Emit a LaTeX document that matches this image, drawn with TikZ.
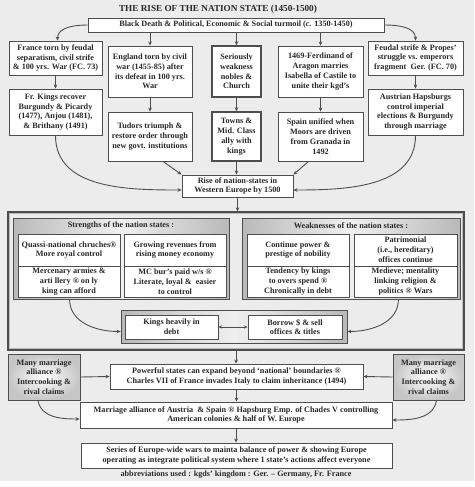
\documentclass[tikz,border=0pt]{standalone}
\usepackage{fontspec}
\setmainfont{Liberation Serif}
\usetikzlibrary{arrows.meta,calc}
\definecolor{bg}{RGB}{236,236,236}
\definecolor{edge}{RGB}{78,78,78}
\definecolor{ink}{RGB}{40,40,40}
\begin{document}
\begin{tikzpicture}[x=1pt,y=-1pt,
  box/.style={draw=edge, line width=0.9pt, fill=white, align=center, inner sep=0pt,
    font=\fontsize{8.2}{9.8}\selectfont\bfseries, text=ink},
  thickbox/.style={box, line width=1.6pt},
  panel/.style={draw=edge, line width=0.8pt, left color=gray!55, right color=gray!55, middle color=gray!12},
  marbox/.style={box, inner color=white, outer color=gray!45},
  arr/.style={draw=edge, line width=0.9pt, -{Stealth[length=4pt,width=3.6pt]}},
  dblarr/.style={draw=edge, line width=0.9pt, {Stealth[length=3.5pt,width=3.2pt]}-{Stealth[length=3.5pt,width=3.2pt]}},
  plain/.style={font=\fontsize{8.2}{9.8}\selectfont\bfseries, text=ink, inner sep=0pt},
]
\fill[bg] (0,0) rectangle (474,481);
\useasboundingbox (0,0) rectangle (474,487);

\node[plain, font=\fontsize{9.2}{10}\selectfont\bfseries] (title) at (218,9) {THE RISE OF THE NATION STATE (1450-1500)};

\node[box, minimum width=296pt, minimum height=14pt] (bd) at (236,25)
  {Black Death \& Political, Economic \& Social turmoil (\textit{c.} 1350-1450)};

% row 1
\node[box, minimum width=93pt, minimum height=34pt] (france) at (55.5,58)
  {France torn by feudal\\separatism, civil strife\\\& 100 yrs. War (FC. 73)};
\node[box, minimum width=84pt, minimum height=51pt] (england) at (150,71.5)
  {England torn by civil\\war (1455-85) after\\its defeat in 100 yrs.\\War};
\node[thickbox, minimum width=49pt, minimum height=51pt] (serious) at (236.5,71.5)
  {Seriously\\weakness\\nobles \&\\Church};
\node[box, minimum width=85pt, minimum height=51pt] (ferd) at (320.5,71.5)
  {1469-Ferdinand of\\Aragon marries\\Isabella of Castile to\\unite their kgd's};
\node[box, minimum width=95pt, minimum height=34pt] (feudal) at (415.5,58)
  {Feudal strife \& Propes'\\struggle vs. emperors\\fragment\ \ Ger. (FC. 70)};

% row 2
\node[box, minimum width=93pt, minimum height=46pt] (frkings) at (55.5,112)
  {Fr. Kings recover\\Burgundy \& Picardy\\(1477), Anjou (1481),\\\& Brithany (1491)};
\node[box, minimum width=84pt, minimum height=49pt] (tudors) at (150,136.5)
  {Tudors triumph \&\\restore order through\\new govt. institutions};
\node[thickbox, minimum width=49pt, minimum height=49pt] (towns) at (236.5,136.5)
  {Towns \&\\Mid. Class\\ally with\\kings};
\node[box, minimum width=85pt, minimum height=49pt] (spain) at (320.5,136.5)
  {Spain unified when\\Moors are driven\\from Granada in\\1492};
\node[box, minimum width=95pt, minimum height=46pt] (austrian) at (415.5,112)
  {Austrian Hapsburgs\\control imperial\\elections \& Burgundy\\through marriage};

\node[box, minimum width=111pt, minimum height=22pt] (rise) at (237.5,186)
  {Rise of nation-states in\\Western Europe by 1500};

% big frame
\node[draw=edge, line width=1.3pt, minimum width=456pt, minimum height=138pt, inner sep=0pt] (frame) at (236,281) {};
\draw[gray!55, line width=0.5pt] ($(frame.north west)+(2.2,2.2)$) rectangle ($(frame.south east)+(-2.2,-2.2)$);

\node[panel, minimum width=216pt, minimum height=81pt, inner sep=0pt] (strong) at (121,258.5) {};
\node[plain] (stronghead) at (121,226) {Strengths of the nation states :};
\node[panel, minimum width=218pt, minimum height=81pt, inner sep=0pt] (weak) at (351,258.5) {};
\node[plain] (weakhead) at (351,226) {Weaknesses of the nation states :};

\node[box, minimum width=102pt, minimum height=32pt] (s1) at (69,250)
  {Quassi-national chruches®\\More royal control};
\node[box, minimum width=102pt, minimum height=32pt] (s2) at (175,250)
  {Growing revenues from\\rising money economy};
\node[box, minimum width=102pt, minimum height=31pt] (s3) at (69,281.5)
  {Mercenary armies \&\\arti llery ® on ly\\king can afford};
\node[box, minimum width=102pt, minimum height=31pt] (s4) at (175,281.5)
  {MC bur's paid w/s ®\\Literate, loyal \&\ \ easier\\to control};
\node[box, minimum width=102pt, minimum height=32pt] (w1) at (298,250)
  {Continue power \&\\prestige of nobility};
\node[box, minimum width=103pt, minimum height=32pt] (w2) at (405.5,250)
  {Patrimonial\\(i.e., hereditary)\\offices continue};
\node[box, minimum width=102pt, minimum height=31pt] (w3) at (298,281.5)
  {Tendency by kings\\to overs spend ®\\Chronically in debt};
\node[box, minimum width=103pt, minimum height=31pt] (w4) at (405.5,281.5)
  {Medieve; mentality\\linking religion \&\\politics ® Wars};

\node[panel, minimum width=226pt, minimum height=33pt, inner sep=0pt] (debt) at (234,326.5) {};
\node[box, minimum width=93pt, minimum height=24pt] (kings) at (171.5,327)
  {Kings heavily in\\debt};
\node[box, minimum width=94pt, minimum height=24pt] (borrow) at (295,327)
  {Borrow \$ \& sell\\offices \& titles};

% lower part
\node[box, minimum width=253pt, minimum height=25pt] (power) at (236.5,376.5)
  {Powerful states can expand beyond ‘national’ boundaries ®\\Charles VII of France invades Italy to claim inheritance (1494)};
\node[marbox, minimum width=72pt, minimum height=46pt] (lmar) at (44,377)
  {Many marriage\\alliance ®\\Intercooking \&\\rival claims};
\node[marbox, minimum width=71pt, minimum height=46pt] (rmar) at (428.5,377)
  {Many marriage\\alliance ®\\Intercooking \&\\rival claims};
\node[box, minimum width=312pt, minimum height=26pt] (alliance) at (236,415)
  {Marriage alliance of Austria\ \ \& Spain ® Hapsburg Emp. of Chades V controlling\\American colonies \& half of W. Europe};
\node[box, minimum width=311pt, minimum height=25pt] (series) at (236.5,455.5)
  {Series of Europe-wide wars to mainta balance of power \& showing Europe\\operating as integrate political system where 1 state's actions affect everyone};
\node[plain] (abbr) at (236,475) {abbreviations used : kgds' kingdom : Ger. -- Germany, Fr. France};

% connectors
\draw[arr] (bd.west) to[out=180,in=90] ($(france.north)+(2,0)$);
\draw[arr] (bd.east) to[out=0,in=90] (feudal.north);
\draw[arr] (bd.south -| england.north) -- (england.north);
\draw[arr] (bd.south -| serious.north) -- (serious.north);
\draw[arr] (bd.south -| ferd.north) -- (ferd.north);
\draw[arr] (france.south) -- (frkings.north);
\draw[arr] (england.south) -- (tudors.north);
\draw[arr] (serious.south) -- (towns.north);
\draw[arr] (ferd.south) -- (spain.north);
\draw[arr] (feudal.south) -- (austrian.north);

\draw[arr] (frkings.south) to[out=-90,in=180] ($(rise.west)+(0,4)$);
\draw[arr] (austrian.south) to[out=-90,in=0] ($(rise.east)+(0,4)$);
\draw[arr] ($(tudors.south)+(13,0)$) -- (rise.north west);
\draw[arr] (towns.south) -- (towns.south |- rise.north);
\draw[arr] ($(spain.south)+(-12,0)$) -- (rise.north east);
\draw[arr] (rise.south) -- (rise.south |- frame.north);

\draw[arr] ($(strong.south west)+(57,0)$) to[out=-90,in=180] ($(debt.west)+(0,5)$);
\draw[arr] ($(weak.south east)+(-62,0)$) to[out=-90,in=0] ($(debt.east)+(0,5)$);
\draw[dblarr] (kings.east) -- (borrow.west);

\draw[arr] (frame.south) -- (frame.south |- power.north);
\draw[arr] (lmar.east) -- (power.west);
\draw[arr] (rmar.west) -- (power.east);
\draw[arr] (power.south) -- (power.south |- alliance.north);
\draw[arr] (alliance.south) -- (alliance.south |- series.north);
\draw[arr] ($(lmar.south)+(-6,0)$) to[out=-80,in=180] ($(alliance.west)+(0,4)$);
\draw[arr] ($(rmar.south)+(8,0)$) to[out=-100,in=0] ($(alliance.east)+(0,5)$);
\end{tikzpicture}
\end{document}
